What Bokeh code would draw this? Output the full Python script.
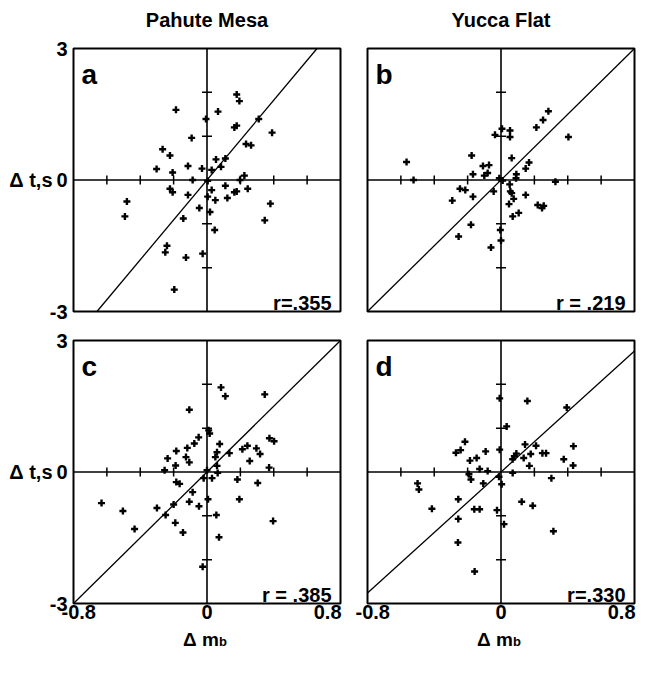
from bokeh.plotting import figure
from bokeh.models import Range1d, Label
from bokeh.layouts import column, row
from bokeh.embed import file_html
from bokeh.resources import INLINE

FONT = "Liberation Sans"

# ---------------- data ----------------
column_titles = ["Pahute Mesa", "Yucca Flat"]
panel_letters = ["a", "b", "c", "d"]
r_texts = ["r=.355", "r = .219", "r = .385", "r=.330"]
line_slopes = [4.55, 3.75, 3.75, 3.45]

x_ticks = [-0.6, -0.4, -0.2, 0.2, 0.4, 0.6]
y_ticks = [-2, -1, 1, 2]
y_label_ticks = [3, 0, -3]
y_label_text = ["3", "0", "-3"]
x_label_ticks = [-0.8, 0, 0.8]
x_label_text = ["-0.8", "0", "0.8"]
y_title = "\u0394 t,s"
x_title = "\u0394 m"
x_title_sub = "b"

a_dmb = [0.178, 0.194, -0.186, 0.066, -0.006, 0.31, 0.164, 0.178, 0.39, -0.092,
         0.234, 0.264, -0.266, -0.222, 0.054, 0.11, 0.084, -0.114, -0.03, 0.028,
         -0.302, -0.206, 0.224, 0.198, -0.086, 0.004, 0.11, 0.028, -0.222, -0.206,
         0.244, 0.178, 0.164, -0.114, 0.004, 0.122, 0.05, -0.48, 0.38, -0.046,
         0.018, -0.492, -0.142, 0.346, 0.046, -0.24, -0.25, -0.126, -0.026, -0.196]
a_dt = [1.95, 1.80, 1.60, 1.56, 1.39, 1.39, 1.20, 1.24, 1.08, 0.96,
        0.82, 0.79, 0.70, 0.56, 0.47, 0.49, 0.30, 0.32, 0.26, 0.23,
        0.25, 0.17, 0.10, 0.0, 0.0, -0.02, -0.13, -0.23, -0.20, -0.28,
        -0.20, -0.26, -0.28, -0.34, -0.38, -0.41, -0.46, -0.49, -0.54, -0.64,
        -0.73, -0.83, -0.88, -0.92, -1.14, -1.50, -1.65, -1.77, -1.68, -2.50]

b_dmb = [0.284, 0.252, 0.212, 0.006, 0.054, -0.036, 0.054, 0.404, -0.566, -0.176,
         0.064, 0.168, -0.108, -0.072, 0.148, -0.08, -0.10, -0.168, 0.092, 0.09,
         -0.524, -0.01, 0.01, 0.326, 0.052, -0.246, -0.214, -0.044, 0.056, -0.168,
         0.148, 0.064, 0.076, -0.292, 0.22, 0.256, 0.246, 0.048, 0.106, 0.07,
         -0.18, -0.004, -0.254, 0.0, -0.06]
b_dt = [1.57, 1.37, 1.20, 1.17, 1.13, 1.03, 0.98, 0.98, 0.41, 0.56,
        0.50, 0.40, 0.32, 0.34, 0.26, 0.16, 0.10, 0.13, 0.13, 0.04,
        0.0, 0.04, -0.01, -0.04, -0.10, -0.20, -0.23, -0.26, -0.26, -0.38,
        -0.34, -0.30, -0.43, -0.47, -0.57, -0.59, -0.64, -0.55, -0.75, -0.83,
        -1.02, -1.14, -1.29, -1.38, -1.54]

c_dmb = [0.084, 0.11, 0.346, -0.106, 0.01, 0.016, 0.374, 0.402, -0.05, -0.076,
         0.076, 0.242, 0.212, 0.296, -0.118, -0.184, 0.134, 0.06, 0.318, -0.126,
         0.05, -0.236, 0.256, -0.106, -0.188, 0.06, 0.372, -0.254, 0.064, 0.0,
         -0.02, 0.03, 0.182, -0.184, -0.164, 0.304, -0.086, 0.006, 0.194, -0.632,
         -0.106, -0.2, -0.048, -0.30, -0.504, -0.248, 0.056, 0.396, -0.19, -0.434,
         -0.144, 0.072, -0.026]
c_dt = [1.93, 1.73, 1.77, 1.42, 0.95, 0.88, 0.77, 0.70, 0.79, 0.65,
        0.64, 0.60, 0.52, 0.54, 0.55, 0.48, 0.43, 0.45, 0.41, 0.34,
        0.34, 0.31, 0.25, 0.22, 0.15, 0.14, 0.10, 0.04, -0.02, 0.04,
        -0.14, -0.14, -0.17, -0.23, -0.27, -0.25, -0.46, -0.62, -0.62, -0.71,
        -0.68, -0.74, -0.78, -0.82, -0.89, -0.98, -0.98, -1.12, -1.16, -1.30,
        -1.38, -1.49, -2.16]

d_dmb = [-0.008, 0.158, 0.394, 0.034, -0.216, -0.242, -0.27, -0.092, -0.008, 0.144,
         0.21, 0.434, -0.146, -0.186, 0.092, 0.08, 0.07, 0.178, 0.136, 0.248,
         0.27, 0.376, 0.432, 0.17, -0.128, -0.08, -0.192, -0.18, 0.07, -0.012,
         0.004, 0.302, -0.5, -0.492, -0.106, -0.256, 0.124, 0.19, -0.414, -0.16,
         -0.128, -0.024, -0.256, 0.018, 0.314, -0.258, -0.158]
d_dt = [1.68, 1.62, 1.47, 1.04, 0.69, 0.50, 0.44, 0.47, 0.51, 0.63,
        0.60, 0.59, 0.32, 0.26, 0.42, 0.36, 0.29, 0.41, 0.32, 0.43,
        0.43, 0.29, 0.15, 0.14, 0.07, 0.02, -0.05, -0.17, -0.02, -0.11,
        -0.28, -0.14, -0.26, -0.40, -0.26, -0.62, -0.68, -0.77, -0.84, -0.85,
        -0.85, -0.87, -1.07, -1.19, -1.35, -1.61, -2.27]

X_MIN, X_MAX = -0.8, 0.8
Y_MIN, Y_MAX = -3, 3

# ---------------- layout (pixels) ----------------
BOX_W, BOX_H = 267, 263


def lbl(text, x, y, size="20px", style="bold", align="left", baseline="alphabetic", dx=0, dy=0):
    return Label(x=x, y=y, text=text, text_font=FONT, text_font_size=size,
                 text_font_style=style, text_align=align, text_baseline=baseline,
                 x_offset=dx, y_offset=dy, text_color="black")


def make_panel(i, xs, ys, left_col, top_row):
    ml = 73 if left_col else 17
    mr = 10 if left_col else 2
    mt = 48 if top_row else 17
    mb = 12 if top_row else 52
    ux = (X_MAX - X_MIN) / BOX_W
    uy = (Y_MAX - Y_MIN) / BOX_H
    p = figure(width=ml + BOX_W + mr, height=mt + BOX_H + mb,
               x_range=Range1d(X_MIN - ml * ux, X_MAX + mr * ux),
               y_range=Range1d(Y_MIN - mb * uy, Y_MAX + mt * uy),
               output_backend="svg", toolbar_location=None,
               x_axis_location=None, y_axis_location=None,
               min_border=0, min_border_left=0, min_border_right=0,
               min_border_top=0, min_border_bottom=0,
               background_fill_color="white", border_fill_color="white",
               outline_line_color=None)
    p.grid.grid_line_color = None

    # panel box
    p.quad(left=[X_MIN], right=[X_MAX], bottom=[Y_MIN], top=[Y_MAX],
           fill_color=None, line_color="black", line_width=2)
    # centre cross lines
    p.segment(x0=[X_MIN, 0], y0=[0, Y_MIN], x1=[X_MAX, 0], y1=[0, Y_MAX],
              line_color="black", line_width=1.6)
    # cross ticks on the centre lines
    p.scatter(x=x_ticks, y=[0] * len(x_ticks), marker="dash", angle=1.5708,
              size=9, line_width=1.5, line_color="black")
    p.scatter(x=[0] * len(y_ticks), y=y_ticks, marker="dash",
              size=10, line_width=1.5, line_color="black")

    # regression line, clipped to the panel box
    s = line_slopes[i]
    x_hi = min(X_MAX, Y_MAX / s)
    x_lo = max(X_MIN, Y_MIN / s)
    p.line([x_lo, x_hi], [s * x_lo, s * x_hi], line_color="black", line_width=1.3)

    # data points
    p.scatter(xs, ys, marker="cross", size=7, line_width=2.4, line_color="black")

    # labels inside the box
    p.add_layout(lbl(panel_letters[i], X_MIN, Y_MAX, size="28px", dx=8, dy=-26))
    p.add_layout(lbl(r_texts[i], X_MAX, Y_MIN, align="right", dx=-9, dy=9))

    if top_row:
        p.add_layout(lbl(column_titles[0 if left_col else 1], 0, Y_MAX,
                         size="20px", align="center", dy=29))
    if left_col:
        for yv, tx in zip(y_label_ticks, y_label_text):
            p.add_layout(lbl(tx, X_MIN, yv, align="right", baseline="middle", dx=-6))
        p.add_layout(lbl(y_title, X_MIN, 0, align="right", baseline="middle", dx=-21))
    if not top_row:
        offs = [-12, 0, 1]
        aligns = ["left", "center", "right"]
        for xv, tx, o, al in zip(x_label_ticks, x_label_text, offs, aligns):
            p.add_layout(lbl(tx, xv, Y_MIN, align=al, baseline="top", dx=o, dy=-1))
        p.add_layout(lbl(x_title, 0, Y_MIN, size="19px", align="center", dx=-6, dy=-36))
        p.add_layout(lbl(x_title_sub, 0, Y_MIN, size="13px", align="left", dx=12, dy=-38))
    return p


pa = make_panel(0, a_dmb, a_dt, True, True)
pb = make_panel(1, b_dmb, b_dt, False, True)
pc = make_panel(2, c_dmb, c_dt, True, False)
pd = make_panel(3, d_dmb, d_dt, False, False)

layout = column(row(pa, pb), row(pc, pd))

open("out.html", "w").write(file_html(layout, INLINE))
